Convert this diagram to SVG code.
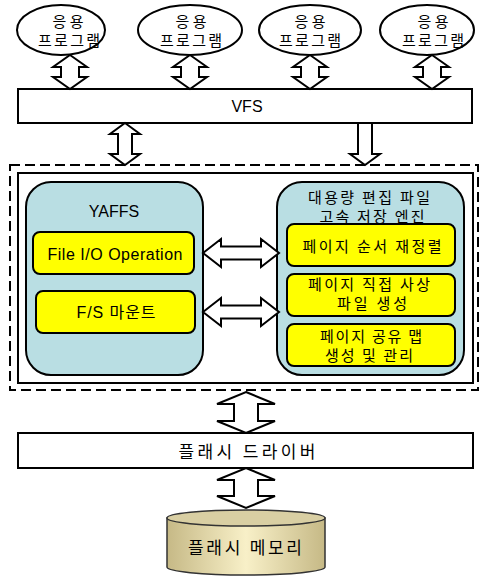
<svg xmlns="http://www.w3.org/2000/svg" width="480" height="577" viewBox="0 0 480 577">
<style>
.ln{fill:#fff;stroke:#000;stroke-width:2}
.ar{fill:#fff;stroke:#000;stroke-width:2;stroke-linejoin:miter}
.blue{fill:#b9dee3;stroke:#000;stroke-width:2}
.yel{fill:#ffff00;stroke:#000;stroke-width:2}
.t{font-family:"Liberation Sans","Noto Sans CJK KR",sans-serif;font-size:16px;fill:#000;text-anchor:middle}
.k{font-family:"Noto Sans CJK KR","Liberation Sans",sans-serif;font-size:15px;fill:#000;text-anchor:middle}
</style>
<defs>
<linearGradient id="cyl" x1="0" y1="0" x2="1" y2="0">
<stop offset="0" stop-color="#c6b986"/>
<stop offset="0.5" stop-color="#f8f0c8"/>
<stop offset="1" stop-color="#c6b986"/>
</linearGradient>
</defs>

<g id="app1"><ellipse class="ln" cx="61" cy="30" rx="44" ry="25"/><text class="k" x="68" y="27" textLength="31">응용</text><text class="k" x="69" y="46" textLength="62">프로그램</text></g>
<g id="app2"><ellipse class="ln" cx="190" cy="30" rx="52" ry="25"/><text class="k" x="191" y="27" textLength="31">응용</text><text class="k" x="191" y="46" textLength="62">프로그램</text></g>
<g id="app3"><ellipse class="ln" cx="310" cy="30" rx="51" ry="25"/><text class="k" x="310" y="27" textLength="31">응용</text><text class="k" x="310" y="46" textLength="62">프로그램</text></g>
<g id="app4"><ellipse class="ln" cx="427" cy="30" rx="47" ry="25"/><text class="k" x="433" y="27" textLength="31">응용</text><text class="k" x="433" y="46" textLength="62">프로그램</text></g>

<g id="vfs"><rect class="ln" x="18" y="89" width="454" height="34"/><text class="t" x="247" y="112">VFS</text></g>

<g id="region"><rect x="10" y="165" width="468" height="225" fill="none" stroke="#000" stroke-width="2" stroke-dasharray="10 5"/><rect class="ln" x="18" y="173" width="455" height="210"/></g>

<g id="yaffs"><rect class="blue" x="26" y="182" width="177" height="193" rx="25"/><text class="t" x="114" y="217">YAFFS</text></g>
<g id="fileio"><rect class="yel" x="33" y="232" width="161" height="42" rx="7"/><text class="t" x="115" y="260" textLength="135">File I/O Operation</text></g>
<g id="fsmount"><rect class="yel" x="36" y="291" width="159" height="42" rx="7"/><text class="t" x="116" y="318" textLength="79">F/S 마운트</text></g>

<g id="engine"><rect class="blue" x="277" y="182" width="187" height="193" rx="25"/><text class="k" x="369" y="203" textLength="122">대용량 편집 파일</text><text class="k" x="372" y="222" textLength="105">고속 저장 엔진</text></g>
<g id="reorder"><rect class="yel" x="287" y="224" width="168" height="42" rx="7"/><text class="k" x="372" y="252" textLength="139">페이지 순서 재정렬</text></g>
<g id="direct"><rect class="yel" x="287" y="274" width="168" height="42" rx="7"/><text class="k" x="369" y="290" textLength="122">페이지 직접 사상</text><text class="k" x="372" y="309" textLength="70">파일 생성</text></g>
<g id="share"><rect class="yel" x="287" y="324" width="168" height="42" rx="7"/><text class="k" x="371" y="342" textLength="102">페이지 공유 맵</text><text class="k" x="369" y="361" textLength="88">생성 및 관리</text></g>

<g id="driver"><rect class="ln" x="18" y="433" width="455" height="35"/><text class="k" x="247" y="458" style="font-size:17px" textLength="137">플래시 드라이버</text></g>

<g id="memory"><path d="M167,518 L167,567 A79,8 0 0 0 325,567 L325,518 Z" fill="url(#cyl)" stroke="#333" stroke-width="1.5"/><ellipse cx="246" cy="518" rx="79" ry="8" fill="#d9cfa3" stroke="#333" stroke-width="1.5"/><text class="k" x="245" y="554" style="font-size:17px" textLength="114">플래시 메모리</text></g>

<g id="connectors">
<path class="ar" d="M70,55 L87,67 L79,67 L79,77 L87,77 L70,89 L53,77 L61,77 L61,67 L53,67 Z"/>
<path class="ar" d="M190,55 L207,67 L199,67 L199,77 L207,77 L190,89 L173,77 L181,77 L181,67 L173,67 Z"/>
<path class="ar" d="M310,55 L327,67 L319,67 L319,77 L327,77 L310,89 L293,77 L301,77 L301,67 L293,67 Z"/>
<path class="ar" d="M432,55 L449,67 L441,67 L441,77 L449,77 L432,89 L415,77 L423,77 L423,67 L415,67 Z"/>
<path class="ar" d="M125,123 L140,134 L132,134 L132,154 L140,154 L125,165 L110,154 L118,154 L118,134 L110,134 Z"/>
<path class="ar" d="M358,123 L372,123 L372,154 L380,154 L365,165 L350,154 L358,154 Z"/>
<path class="ar" d="M203,253 L221,239 L221,246.5 L261,246.5 L261,239 L279,253 L261,267 L261,259.5 L221,259.5 L221,267 Z"/>
<path class="ar" d="M203,312 L221,298 L221,305.5 L261,305.5 L261,298 L279,312 L261,326 L261,318.5 L221,318.5 L221,326 Z"/>
<path class="ar" d="M246,392 L275,404 L258,404 L258,421 L275,421 L246,433 L217,421 L234,421 L234,404 L217,404 Z"/>
<path class="ar" d="M246,468 L275,480 L258,480 L258,496 L275,496 L246,508 L217,496 L234,496 L234,480 L217,480 Z"/>
</g>
</svg>
